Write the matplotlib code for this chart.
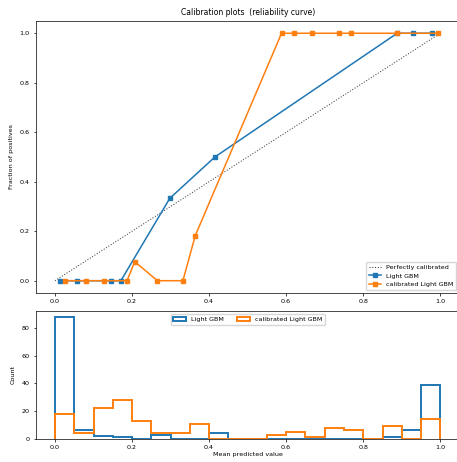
import matplotlib
matplotlib.use("Agg")
import matplotlib.pyplot as plt
import numpy as np

plt.rcParams["font.size"] = 4.6
plt.rcParams["axes.linewidth"] = 0.5
plt.rcParams["xtick.major.width"] = 0.5
plt.rcParams["ytick.major.width"] = 0.5
plt.rcParams["xtick.major.size"] = 1.8
plt.rcParams["ytick.major.size"] = 1.8
plt.rcParams["xtick.major.pad"] = 2.5
plt.rcParams["ytick.major.pad"] = 2.5

# reliability curve values (mean predicted value, fraction of positives)
gbm_mean_pred = [0.013, 0.058, 0.146, 0.171, 0.298, 0.415, 0.888, 0.928, 0.978]
gbm_frac_pos = [0.0, 0.0, 0.0, 0.0, 0.333, 0.5, 1.0, 1.0, 1.0]

cal_mean_pred = [0.027, 0.080, 0.126, 0.187, 0.207, 0.266, 0.332, 0.364,
                 0.588, 0.620, 0.668, 0.737, 0.768, 0.888, 0.995]
cal_frac_pos = [0.0, 0.0, 0.0, 0.0, 0.077, 0.0, 0.0, 0.182,
                1.0, 1.0, 1.0, 1.0, 1.0, 1.0, 1.0]

# histogram counts, 20 bins over [0, 1]
bin_edges = np.linspace(0, 1, 21)
gbm_counts = [88, 6, 2, 1, 0, 3, 0, 0, 4, 0, 0, 0, 0, 0, 0, 0, 0, 1, 6, 39]
cal_counts = [18, 4, 22, 28, 13, 4, 4, 11, 0, 0, 0, 3, 5, 1, 8, 6, 0, 9, 0, 14]
bin_mids = (bin_edges[:-1] + bin_edges[1:]) / 2

fig = plt.figure(figsize=(4.57, 4.62), dpi=100)
ax1 = fig.add_axes([35.7 / 457, 0.3656, (459.6 - 35.7) / 457, 0.9548 - 0.3656])
ax2 = fig.add_axes([35.7 / 457, 0.0504, (459.6 - 35.7) / 457, 0.3268 - 0.0504])

ax1.plot([0, 1], [0, 1], "k:", lw=0.75, alpha=0.75, label="Perfectly calibrated")
ax1.plot(gbm_mean_pred, gbm_frac_pos, "s-", lw=1.1, ms=3, label="Light GBM")
ax1.plot(cal_mean_pred, cal_frac_pos, "s-", lw=1.1, ms=3, label="calibrated Light GBM")
ax1.set_xlim(-0.05, 1.05)
ax1.set_ylim(-0.05, 1.05)
ax1.set_ylabel("Fraction of positives", labelpad=4)
ax1.set_title("Calibration plots  (reliability curve)", fontsize=5.5, pad=4)
ax1.legend(loc="lower right")

ax2.hist(bin_mids, bins=bin_edges, weights=gbm_counts, histtype="step", lw=1.4, label="Light GBM")
ax2.hist(bin_mids, bins=bin_edges, weights=cal_counts, histtype="step", lw=1.4, label="calibrated Light GBM")
ax2.set_xlim(-0.05, 1.05)
ax2.set_ylim(0, 92.4)
ax2.set_xlabel("Mean predicted value", labelpad=2)
ax2.set_ylabel("Count", labelpad=4)
ax2.legend(loc="upper center", ncol=2)

fig.savefig("out.png", dpi=100)
